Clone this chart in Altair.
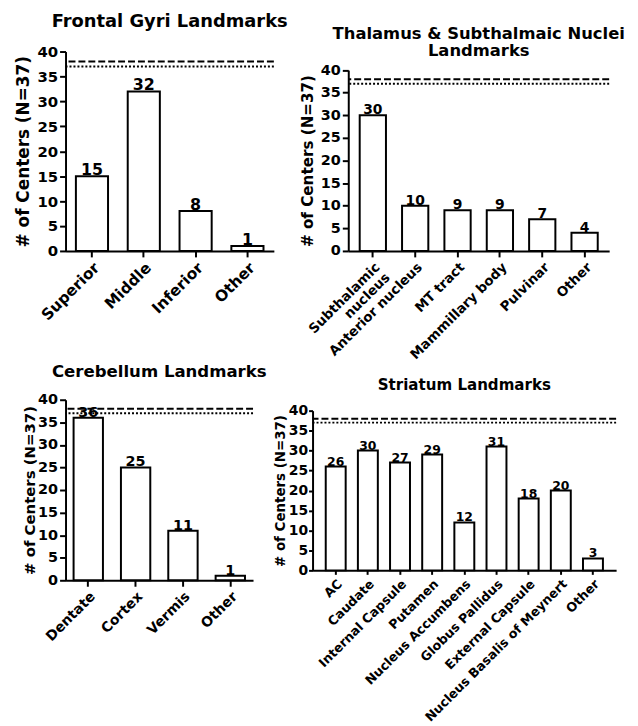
import altair as alt
import pandas as pd

# ---- data ----
frontal_cats = ["Superior", "Middle", "Inferior", "Other"]
frontal_vals = [15, 32, 8, 1]

thal_cats = ["Subthalamic\nnucleus", "Anterior nucleus", "MT tract",
             "Mammillary body", "Pulvinar", "Other"]
thal_vals = [30, 10, 9, 9, 7, 4]

cereb_cats = ["Dentate", "Cortex", "Vermis", "Other"]
cereb_vals = [36, 25, 11, 1]

stri_cats = ["AC", "Caudate", "Internal Capsule", "Putamen", "Nucleus Accumbens",
             "Globus Pallidus", "External Capsule", "Nucleus Basalis of Meynert", "Other"]
stri_vals = [26, 30, 27, 29, 12, 31, 18, 20, 3]

ref_dashed = [38]
ref_dotted = [37]
y_ticks = [0, 5, 10, 15, 20, 25, 30, 35, 40]
y_title = "# of Centers (N=37)"

FONT = "DejaVu Sans"


def panel(title, cats, vals, w, h, pad_outer, tick_fs, ytitle_fs, xlab_fs, val_fs,
          title_fs, title_y, title_pad, tick_size=6, label_pad=2, top_gap=0):
    df = pd.DataFrame({"cat": cats, "val": vals})
    x_axis = alt.Axis(labelAngle=-45, labelAlign="right", labelBaseline="top",
                      labelFontSize=xlab_fs, labelFontWeight="bold", labelFont=FONT,
                      labelColor="black", domainColor="black", domainWidth=2,
                      tickColor="black", tickWidth=2, tickSize=tick_size, labelPadding=3,
                      labelExpr="split(datum.label, '\\n')", labelLimit=400,
                      labelLineHeight=xlab_fs + 1)
    y_axis = alt.Axis(values=y_ticks, tickCount=9, grid=False, labelFontSize=tick_fs,
                      labelFontWeight="bold", labelFont=FONT, labelColor="black",
                      labelOverlap=False, labelFlush=False,
                      titleFontSize=ytitle_fs, titleFontWeight="bold", titleFont=FONT,
                      titleColor="black", domainColor="black", domainWidth=2,
                      tickColor="black", tickWidth=2, tickSize=tick_size,
                      labelPadding=label_pad, titlePadding=title_pad)
    x_scale = alt.Scale(paddingInner=0.38, paddingOuter=pad_outer)
    if top_gap:
        y_scale = alt.Scale(domain=[0, 40], nice=False, range=[h, top_gap])
    else:
        y_scale = alt.Scale(domain=[0, 40], nice=False)

    def yenc():
        return alt.Y("val:Q", title=y_title, scale=y_scale, axis=y_axis)

    def xenc():
        return alt.X("cat:N", sort=cats, title=None, scale=x_scale, axis=x_axis)

    base = alt.Chart(df)
    bars = base.mark_bar(fill="white", stroke="black", strokeWidth=2).encode(
        x=xenc(), y=yenc())
    txt = base.mark_text(baseline="bottom", dy=2, fontWeight="bold", font=FONT,
                         fontSize=val_fs, color="black").encode(
        x=xenc(), y=yenc(), text="val:Q")
    dash = alt.Chart(pd.DataFrame({"val": ref_dashed})).mark_rule(
        color="black", strokeWidth=2, strokeDash=[7, 3]).encode(y=yenc())
    dot = alt.Chart(pd.DataFrame({"val": ref_dotted})).mark_rule(
        color="black", strokeWidth=2, strokeDash=[2, 2]).encode(y=yenc())
    ttl = alt.Chart(pd.DataFrame({"t": [title]})).mark_text(
        fontSize=title_fs, fontWeight="bold", font=FONT, color="black",
        align="center", baseline="middle", lineBreak="\n",
        lineHeight=title_fs + 1.5).encode(
        x=alt.value(w / 2), y=alt.value(title_y), text="t:N")
    return alt.layer(bars, txt, dash, dot, ttl).properties(width=w, height=h)


p1 = panel("Frontal Gyri Landmarks", frontal_cats, frontal_vals, 210, 201, 0.2,
           15, 17, 15.5, 16, 18, -30, 4)
p2 = panel("Thalamus & Subthalmaic Nuclei\nLandmarks", thal_cats, thal_vals,
           263, 201, 0.27, 14.5, 15.3, 13.5, 14, 16.5, -18, 5, top_gap=18.7)
p3 = panel("Cerebellum Landmarks", cereb_cats, cereb_vals, 189, 182, 0.17,
           14.5, 15, 14, 14.5, 16.7, -27.7, 0)
p4 = panel("Striatum Landmarks", stri_cats, stri_vals, 306, 172, 0.41,
           14, 13.5, 12.8, 12.5, 15.2, -14.7, 1, tick_size=4, label_pad=1,
           top_gap=11)

row1 = alt.hconcat(p1, p2, spacing=12)
row2 = alt.hconcat(p3, p4, spacing=6)
chart = alt.vconcat(row1, row2, spacing=2).properties(
    padding={"left": 7, "top": 2, "right": 5, "bottom": 0}
).configure_view(stroke=None)

chart.save("out.html", embed_options={"renderer": "svg", "actions": False})
